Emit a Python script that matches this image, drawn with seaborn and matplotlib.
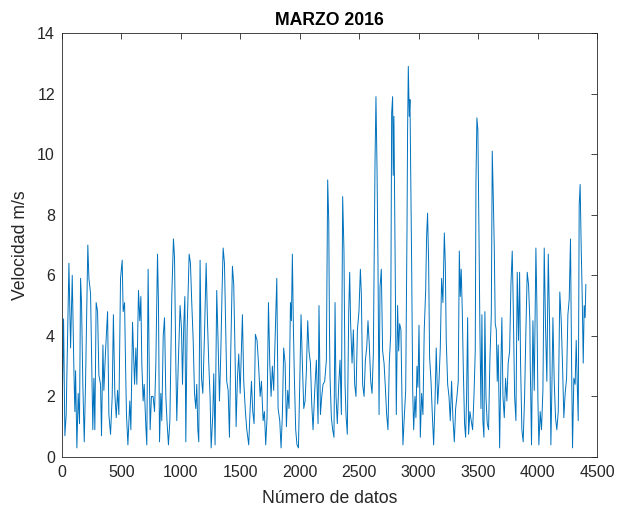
import matplotlib
matplotlib.use("Agg")
import matplotlib.pyplot as plt
import seaborn as sns
import pandas as pd

# sample index and wind speed (m/s)
idx = [1, 14, 25, 36, 59, 73, 87, 101, 109, 115, 126, 137, 148, 157, 165, 176, 188, 199, 218, 227,
       241, 249, 260, 269, 277, 288, 300, 311, 325, 333, 345, 353, 367, 384, 395, 409, 423, 433, 445, 457,
       468, 479, 493, 507, 515, 527, 535, 543, 555, 571, 580, 594, 602, 611, 622, 630, 644, 655, 664, 672,
       683, 692, 706, 714, 725, 734, 742, 753, 767, 779, 790, 804, 812, 821, 832, 840, 852, 863, 874, 885,
       896, 908, 924, 938, 947, 958, 966, 978, 994, 1006, 1014, 1025, 1034, 1042, 1053, 1070, 1081, 1092, 1104, 1115,
       1126, 1134, 1143, 1151, 1162, 1174, 1185, 1199, 1213, 1224, 1235, 1246, 1255, 1269, 1277, 1288, 1302, 1314, 1325, 1336,
       1347, 1356, 1367, 1375, 1386, 1398, 1409, 1420, 1434, 1445, 1457, 1465, 1476, 1487, 1499, 1507, 1518, 1529, 1543, 1555,
       1571, 1583, 1594, 1605, 1616, 1627, 1641, 1653, 1667, 1678, 1692, 1703, 1714, 1725, 1737, 1748, 1759, 1770, 1781, 1795,
       1807, 1818, 1832, 1843, 1854, 1865, 1877, 1888, 1899, 1910, 1922, 1930, 1938, 1947, 1955, 1966, 1977, 1989, 2000, 2011,
       2022, 2034, 2045, 2056, 2067, 2078, 2090, 2101, 2112, 2126, 2140, 2154, 2162, 2174, 2185, 2196, 2210, 2224, 2235, 2244,
       2250, 2255, 2266, 2277, 2288, 2297, 2305, 2316, 2328, 2339, 2350, 2361, 2372, 2381, 2389, 2400, 2412, 2420, 2428, 2440,
       2451, 2462, 2473, 2485, 2498, 2510, 2518, 2529, 2541, 2552, 2563, 2574, 2585, 2597, 2608, 2619, 2633, 2641, 2650, 2658,
       2667, 2675, 2686, 2697, 2709, 2720, 2731, 2742, 2753, 2765, 2773, 2781, 2786, 2792, 2798, 2804, 2812, 2823, 2832, 2840,
       2851, 2860, 2868, 2879, 2891, 2902, 2907, 2913, 2921, 2927, 2933, 2941, 2950, 2958, 2969, 2977, 2986, 2994, 3003, 3014,
       3025, 3036, 3047, 3059, 3067, 3075, 3084, 3092, 3104, 3115, 3126, 3137, 3148, 3160, 3171, 3182, 3193, 3204, 3216, 3224,
       3232, 3244, 3255, 3266, 3277, 3288, 3300, 3311, 3322, 3333, 3342, 3350, 3358, 3367, 3375, 3386, 3395, 3403, 3412, 3420,
       3431, 3442, 3454, 3465, 3476, 3482, 3490, 3498, 3507, 3515, 3524, 3532, 3540, 3549, 3557, 3566, 3577, 3588, 3599, 3611,
       3619, 3627, 3636, 3644, 3653, 3661, 3669, 3681, 3692, 3700, 3709, 3720, 3731, 3742, 3753, 3765, 3776, 3787, 3795, 3807,
       3818, 3829, 3840, 3849, 3857, 3868, 3879, 3891, 3902, 3913, 3924, 3935, 3938, 3949, 3961, 3972, 3986, 3994, 4003, 4011,
       4022, 4033, 4045, 4056, 4067, 4078, 4090, 4101, 4112, 4120, 4129, 4140, 4151, 4162, 4174, 4187, 4199, 4210, 4221, 4232,
       4244, 4255, 4266, 4277, 4286, 4294, 4305, 4316, 4325, 4333, 4342, 4350, 4358, 4367, 4375, 4384, 4392, 4400, 4406]

speed = [1.2, 4.56, 0.7, 1.4, 6.4, 3.6, 6.0, 2.85, 1.5, 2.85, 0.3, 2.1, 1.1, 5.9, 5.1, 2.4, 0.5, 2.5, 7.0, 5.9,
         5.4, 3.5, 0.9, 2.6, 0.9, 5.1, 4.8, 2.7, 2.4, 0.7, 3.7, 2.2, 3.5, 4.8, 1.4, 0.75, 2.0, 4.7, 2.1, 1.3,
         2.2, 1.4, 5.9, 6.5, 4.8, 5.1, 3.1, 1.4, 0.4, 1.85, 0.9, 4.45, 3.5, 2.4, 3.6, 2.4, 5.5, 4.5, 5.3, 3.1,
         1.85, 2.4, 1.0, 0.4, 6.2, 3.1, 0.9, 2.0, 2.0, 1.5, 3.1, 6.7, 5.1, 0.5, 2.1, 1.2, 4.0, 4.6, 2.0, 1.1,
         0.4, 1.2, 5.3, 7.2, 6.6, 3.1, 1.2, 3.0, 5.0, 4.2, 2.4, 4.4, 5.3, 0.5, 4.2, 6.7, 6.4, 5.1, 3.85, 2.1,
         1.6, 2.4, 0.9, 0.5, 6.5, 2.6, 2.1, 4.05, 6.4, 4.5, 3.1, 2.0, 0.3, 1.4, 2.75, 0.4, 5.5, 3.7, 1.85, 3.4,
         5.5, 6.9, 6.4, 4.7, 2.5, 2.2, 0.65, 3.5, 6.3, 5.7, 3.2, 1.0, 2.6, 3.4, 2.1, 3.2, 4.7, 2.5, 1.5, 0.9,
         0.4, 1.6, 2.5, 1.5, 1.1, 4.05, 3.85, 3.1, 2.0, 2.5, 1.2, 1.5, 0.4, 1.3, 5.1, 3.1, 2.0, 3.0, 2.2, 4.2,
         5.9, 1.6, 1.2, 0.3, 1.4, 3.6, 3.1, 1.0, 2.2, 1.6, 5.1, 4.5, 6.7, 4.2, 2.6, 0.9, 0.4, 0.3, 2.4, 4.7,
         3.1, 1.6, 1.85, 2.85, 4.5, 3.5, 3.1, 1.75, 0.9, 2.2, 3.2, 1.1, 5.0, 1.4, 2.0, 2.4, 2.5, 3.2, 9.15, 7.8,
         4.2, 2.6, 1.3, 0.9, 0.65, 5.1, 2.0, 1.1, 2.4, 3.2, 1.4, 8.6, 6.8, 2.4, 1.4, 0.75, 4.8, 6.1, 4.4, 3.1,
         4.2, 2.4, 2.0, 4.2, 4.8, 6.2, 5.4, 2.4, 2.0, 3.2, 3.6, 4.5, 3.7, 2.5, 2.1, 3.4, 9.7, 11.9, 9.5, 6.4,
         1.4, 5.6, 6.2, 3.5, 3.1, 2.3, 1.4, 0.9, 3.1, 4.05, 11.35, 11.9, 9.3, 11.25, 8.6, 5.7, 1.4, 5.0, 3.5, 4.4,
         4.2, 1.85, 0.4, 1.3, 2.2, 7.5, 10.8, 12.9, 11.25, 11.8, 9.5, 6.4, 2.2, 0.9, 2.0, 1.3, 3.0, 2.3, 4.35, 0.65,
         2.1, 1.4, 4.2, 5.5, 7.3, 8.05, 6.4, 3.3, 2.5, 1.4, 0.4, 1.75, 3.6, 1.75, 2.5, 3.6, 5.9, 5.1, 7.4, 6.4,
         3.85, 2.4, 2.0, 1.2, 2.5, 1.3, 0.5, 1.6, 2.0, 2.5, 6.8, 5.3, 6.2, 4.8, 3.0, 1.1, 0.65, 2.0, 4.6, 0.75,
         1.5, 1.2, 0.9, 2.0, 3.5, 9.15, 11.2, 10.8, 7.5, 4.2, 1.6, 4.7, 1.2, 0.65, 4.8, 2.0, 1.1, 0.9, 3.2, 4.7,
         10.1, 8.7, 6.9, 4.4, 4.2, 2.5, 3.7, 0.3, 3.1, 4.6, 2.0, 1.3, 2.6, 1.85, 3.1, 3.5, 5.7, 6.8, 5.1, 2.0,
         1.2, 6.1, 3.85, 6.1, 3.1, 0.9, 0.5, 2.0, 4.2, 6.1, 5.7, 4.5, 3.2, 0.4, 4.5, 2.2, 6.9, 5.1, 1.85, 0.4,
         1.5, 0.9, 2.2, 6.9, 4.3, 2.5, 6.7, 4.4, 0.4, 2.2, 4.6, 2.5, 1.3, 0.9, 1.5, 5.45, 4.5, 3.0, 1.3, 2.1,
         2.6, 4.7, 5.2, 7.2, 3.1, 0.3, 2.6, 2.4, 3.85, 2.5, 1.2, 8.3, 9.0, 6.9, 5.4, 3.1, 5.0, 4.6, 5.7]

x_ticks = [0, 500, 1000, 1500, 2000, 2500, 3000, 3500, 4000, 4500]
y_ticks = [0, 2, 4, 6, 8, 10, 12, 14]
title = "MARZO 2016"
xlabel = "Número de datos"
ylabel = "Velocidad m/s"

sns.set_style("white")
plt.rcParams['font.family'] = ['Liberation Sans', 'DejaVu Sans']

df = pd.DataFrame({"idx": idx, "speed": speed})

fig = plt.figure(figsize=(6.19, 5.08), dpi=100)
ax = fig.add_axes([0.100, 0.1004, 0.8645, 0.8346])
sns.lineplot(data=df, x="idx", y="speed", color="#0072BD", linewidth=0.7, ax=ax)

ax.set_xlim(0, 4500)
ax.set_ylim(0, 14)
ax.set_xticks(x_ticks)
ax.set_yticks(y_ticks)
ax.tick_params(direction="in", length=4, width=0.6, colors="#262626",
               labelsize=11.5, top=True, right=True, labeltop=False, labelright=False)
ax.tick_params(axis="x", pad=6)
ax.tick_params(axis="y", pad=5)
for s in ax.spines.values():
    s.set_visible(True)
    s.set_color("#262626")
    s.set_linewidth(0.6)
ax.set_title(title, fontsize=12.7, fontweight="bold", color="black", pad=6)
ax.set_xlabel(xlabel, fontsize=12.7, color="#262626", labelpad=7)
ax.set_ylabel(ylabel, fontsize=12.7, color="#262626", labelpad=6)
ax.grid(False)

fig.savefig("out.png", dpi=100, facecolor="white")
